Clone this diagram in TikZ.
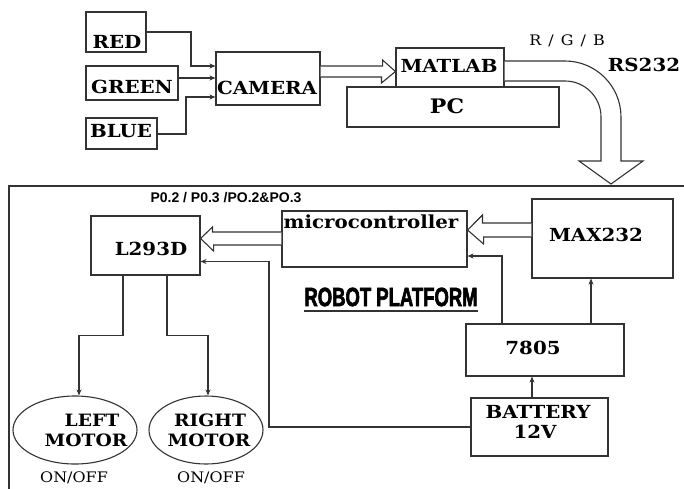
\documentclass[tikz,border=0pt]{standalone}
\usepackage{fontspec}
\usepackage{graphicx}
\newfontfamily\sansb{Liberation Sans}
\newfontfamily\heavysans{Liberation Sans}[FakeStretch=0.8,FakeBold=2.5]
\newfontfamily\dvs{DejaVu Serif}[FakeStretch=1.1]
\usetikzlibrary{arrows.meta,shapes.geometric,calc}
\definecolor{linec}{HTML}{333333}
\begin{document}
\begin{tikzpicture}[x=1pt,y=-1pt,
  box/.style={draw=linec, line width=1.1pt, inner sep=0pt, rectangle},
  oval/.style={draw=linec, line width=1.1pt, inner sep=0pt, ellipse},
  wire/.style={draw=linec, line width=1.1pt},
  arr/.style={wire, -{Stealth[length=6pt,width=5pt]}},
  hollow/.style={draw=linec, line width=1.1pt, fill=white, line join=miter},
  frame/.style={draw=linec, line width=1.7pt},
  lbl/.style={inner sep=0pt, font=\dvs\bfseries\fontsize{18}{20}\selectfont},
  mlbl/.style={inner sep=0pt, font=\dvs\bfseries\fontsize{17}{19}\selectfont},
  plain/.style={inner sep=0pt, font=\dvs\fontsize{14.5}{16}\selectfont},
]
\useasboundingbox (0,0) rectangle (684,488);

% platform frame
\draw[frame] (9,490) -- (9,186) -- (686,186);

% boxes
\node[box, minimum width=60, minimum height=40] (red) at (116,32) {};
\node[box, minimum width=92, minimum height=34] (green) at (132,83) {};
\node[box, minimum width=71, minimum height=31] (blue) at (121.5,133.5) {};
\node[box, minimum width=104, minimum height=53] (camera) at (268,78.5) {};
\node[box, minimum width=212, minimum height=40] (pc) at (453,107) {};
\node[box, minimum width=108, minimum height=39, fill=white] (matlab) at (450,67.5) {};
\node[box, minimum width=109, minimum height=59] (l293d) at (145.5,245.5) {};
\node[box, minimum width=185, minimum height=56] (micro) at (374.5,239) {};
\node[box, minimum width=141, minimum height=79] (max) at (602.5,238.5) {};
\node[box, minimum width=158, minimum height=52] (v7805) at (545,350) {};
\node[box, minimum width=137, minimum height=58] (battery) at (539.5,427) {};
\node[oval, minimum width=124, minimum height=68] (lm) at (75,430) {};
\node[oval, minimum width=114, minimum height=68] (rm) at (206,430) {};

% texts
\node[lbl] (tred) at (117,42) {RED};
\node[lbl] (tgreen) at (132,87) {GREEN};
\node[lbl] (tblue) at (121,131) {BLUE};
\node[lbl] (tcam) at (267,88) {CAMERA};
\node[lbl] (tmat) at (449,66) {MATLAB};
\node[inner sep=0pt, font=\dvs\bfseries\fontsize{20}{22}\selectfont] (tpc) at (447,106) {PC};
\node[plain] (trgb) at (567,41) {R\hspace{2pt} / \hspace{2pt}G\hspace{2pt} / \hspace{2pt}B};
\node[lbl] (trs) at (644,65) {RS232};
\node[inner sep=0pt, font=\sansb\bfseries\fontsize{14}{16}\selectfont] (tport) at (226,198) {P0.2 / P0.3 /PO.2\&PO.3};
\node[lbl] (tl293) at (151,249) {L293D};
\node[lbl] (tmicro) at (371,222) {microcontroller};
\node[lbl] (tmax) at (596,235) {MAX232};
\node[inner sep=0pt, font=\heavysans\bfseries\fontsize{22}{24}\selectfont] (ttitle) at (391,297) {\scalebox{1.05}[1.2]{ROBOT PLATFORM}};
\draw[linec, line width=1.8pt] ($(ttitle.base west)+(0,5)$) -- ($(ttitle.base east)+(0,5)$);
\node[lbl] (t7805) at (533,348) {7805};
\node[lbl] (tbat) at (538,412) {BATTERY};
\node[lbl] (t12v) at (535,432) {12V};
\node[mlbl] (tleft) at (92,420) {LEFT};
\node[mlbl] (tlmot) at (86,440) {MOTOR};
\node[mlbl] (tright) at (210,420) {RIGHT};
\node[mlbl] (trmot) at (209,440) {MOTOR};
\node[plain] (ton1) at (74,478) {ON/OFF};
\node[plain] (ton2) at (211,478) {ON/OFF};

% colour inputs to camera
\draw[arr] (red.east) -- (191,32) |- ($(camera.west)+(0,-12.5)$);
\draw[arr] ($(green.east)+(0,-5)$) -- ($(camera.west)+(0,-0.5)$);
\draw[arr] ($(blue.east)+(0,0.5)$) -- (186,134) |- ($(camera.west)+(0,18.5)$);

% camera -> matlab hollow arrow
\draw[hollow] ($(camera.east)+(0,-12.5)$) -- ++(62,0) -- ++(0,-6)
  -- ($(matlab.west)+(0,4)$) -- ++(-14,11.5) -- ++(0,-6)
  -- ($(camera.east)+(0,-1.5)$);

% matlab -> platform curved hollow arrow (RS232)
\draw[hollow] ($(matlab.east)+(0,13.5)$) -- (565,81)
  .. controls (584.9,81) and (601,97.1) .. (601,117)
  -- (601,161) -- (579,161) -- (611,184) -- (643,161) -- (621,161)
  -- (621,117) .. controls (621,86.1) and (595.9,61) .. (565,61)
  -- ($(matlab.east)+(0,-6.5)$);

% max232 -> microcontroller
\draw[hollow] ($(max.west)+(0,-15.5)$) -- ++(-49,0) -- ++(0,-8)
  -- ($(micro.east)+(0,-9)$) -- ++(16,14) -- ++(0,-7)
  -- ($(max.west)+(0,-1.5)$);

% microcontroller -> L293D
\draw[hollow] ($(micro.west)+(0,-7)$) -- ++(-69,0) -- ++(0,-5)
  -- ($(l293d.east)+(0,-7)$) -- ++(13,12.5) -- ++(0,-6)
  -- ($(micro.west)+(0,6)$);

% power wiring
\draw[arr] ($(v7805.north)+(-43,0)$) |- ($(micro.east)+(0,17)$);
\draw[arr] ($(v7805.north)+(46,0)$) -- ($(max.south)+(-11.5,0)$);
\draw[arr] ($(battery.north)+(-7.5,0)$) -- ($(v7805.south)+(-13,0)$);
\draw[arr] (battery.west) -- (269,427) |- ($(l293d.east)+(0,16)$);

% L293D -> motors
\draw[arr] ($(l293d.south)+(-22.5,0)$) -- ++(0,60) -| ($(lm.north)+(4,0)$);
\draw[arr] ($(l293d.south)+(21.5,0)$) -- ++(0,60) -| ($(rm.north)+(2,0)$);
\end{tikzpicture}
\end{document}
